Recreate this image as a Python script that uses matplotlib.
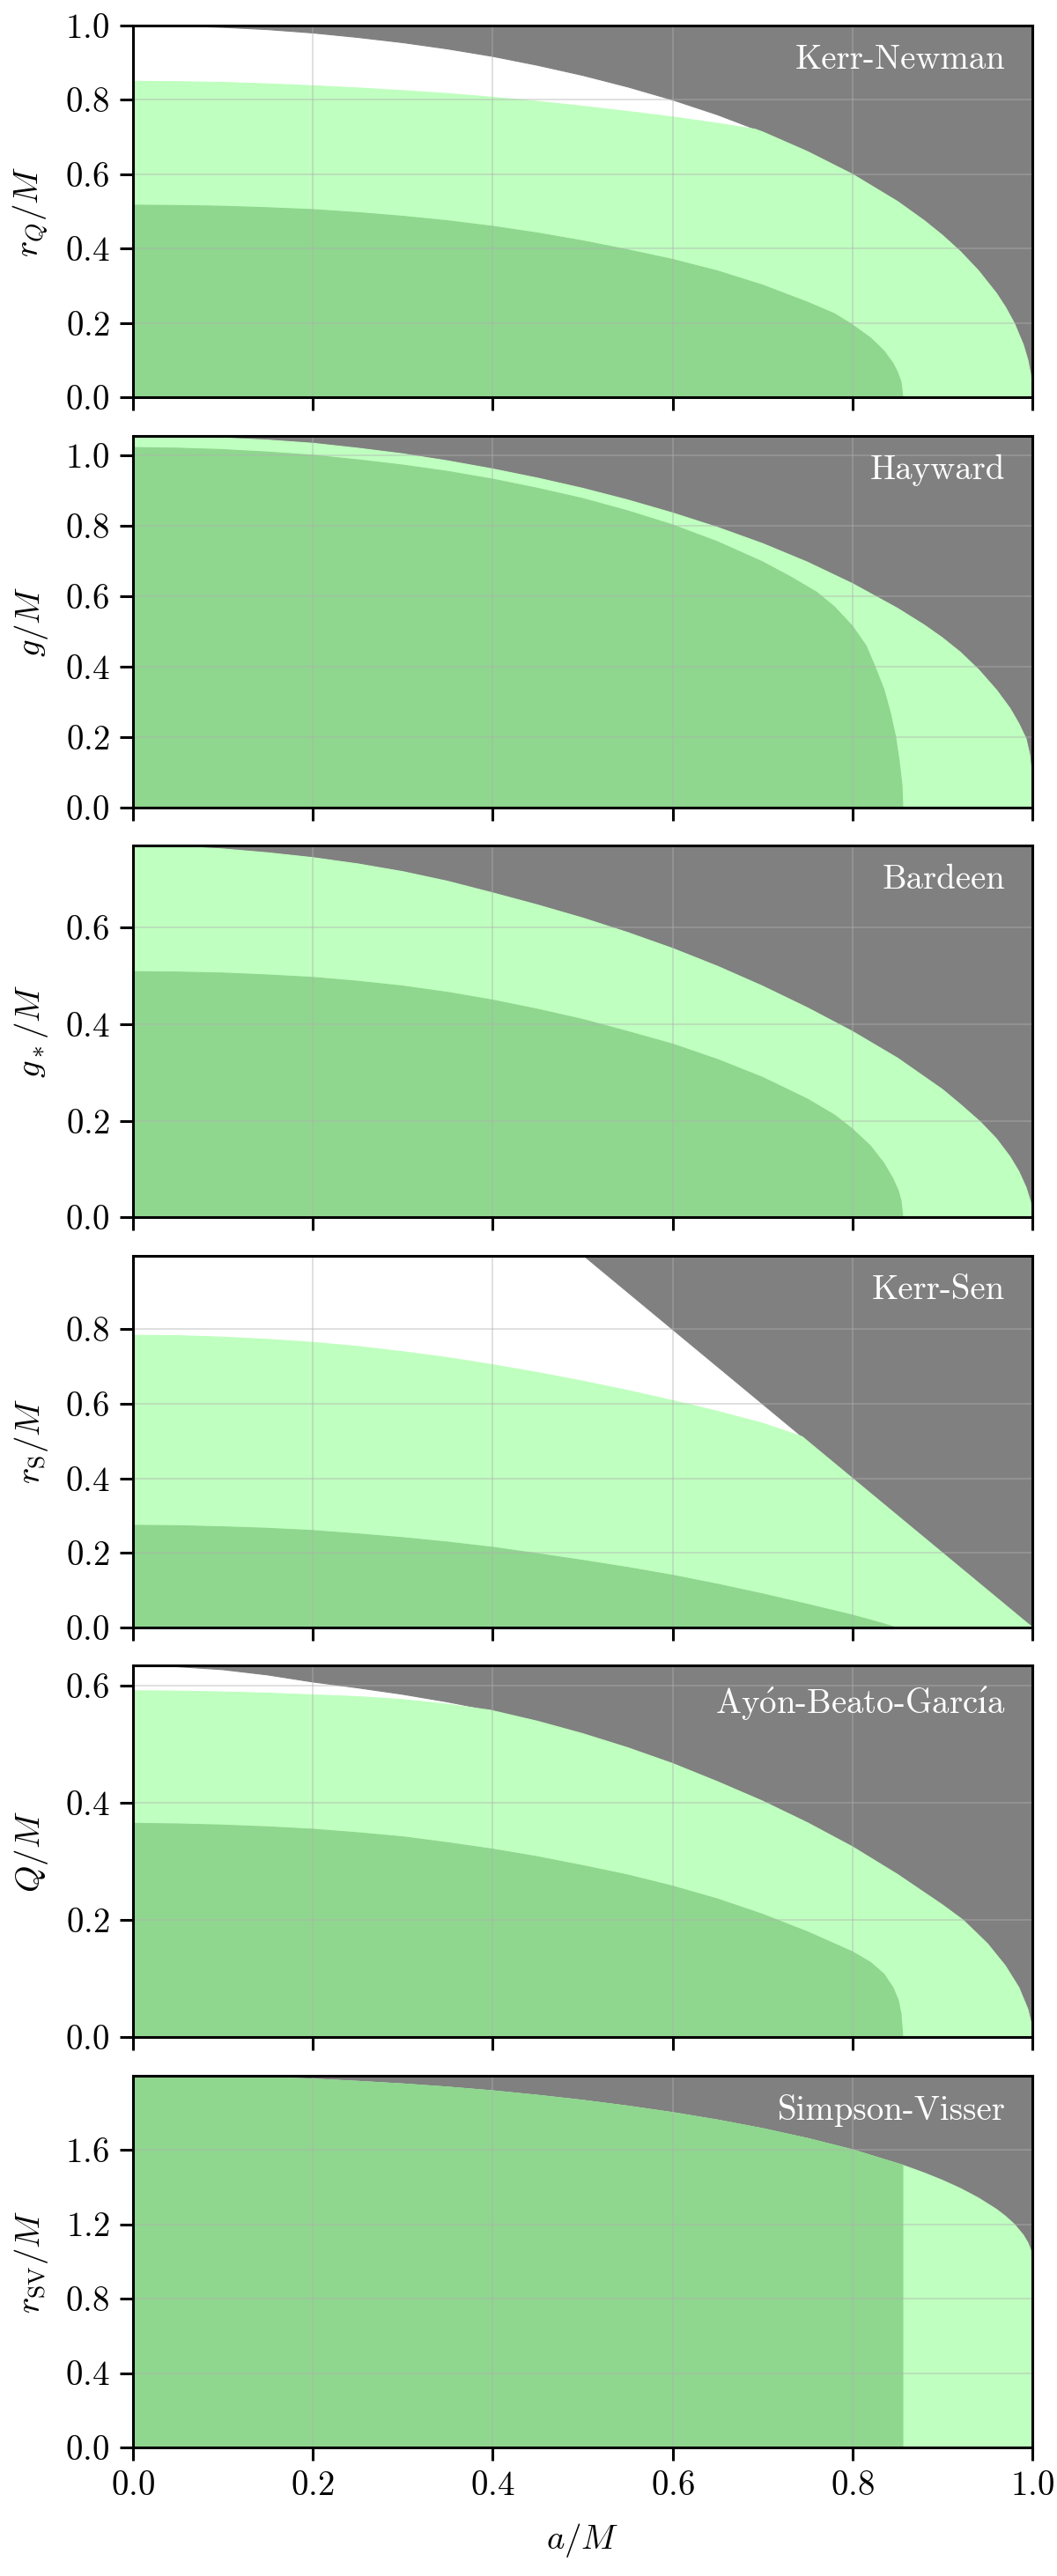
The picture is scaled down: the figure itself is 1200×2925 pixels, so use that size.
import numpy as np
import matplotlib
matplotlib.use("Agg")
import matplotlib.pyplot as plt
from matplotlib.ticker import MultipleLocator

plt.rcParams["font.family"] = "serif"
plt.rcParams["font.serif"] = ["cmr10"]
plt.rcParams["mathtext.fontset"] = "cm"
plt.rcParams["axes.formatter.use_mathtext"] = True

# ---------------- data ----------------
# Kerr-Newman: extremal curve, light-green and dark-green boundaries
kn_ext_a = [0, 0.05, 0.1, 0.15, 0.2, 0.25, 0.3, 0.35, 0.4, 0.45, 0.5, 0.55, 0.6, 0.65, 0.7, 0.75,
            0.8, 0.85, 0.88, 0.9, 0.92, 0.94, 0.96, 0.97, 0.98, 0.99, 0.995, 0.998, 1.0]
kn_ext_y = [1.0, 0.999, 0.995, 0.989, 0.980, 0.968, 0.954, 0.937, 0.917, 0.893, 0.866, 0.835, 0.800,
            0.760, 0.714, 0.661, 0.600, 0.527, 0.475, 0.436, 0.392, 0.341, 0.280, 0.243, 0.199, 0.141,
            0.100, 0.063, 0.0]
kn_light_a = [0, 0.05, 0.1, 0.15, 0.2, 0.25, 0.3, 0.35, 0.4, 0.45, 0.5, 0.55, 0.6, 0.65, 0.692]
kn_light_y = [0.850, 0.849, 0.847, 0.843, 0.838, 0.832, 0.825, 0.817, 0.807, 0.796, 0.783, 0.769,
              0.754, 0.737, 0.721]
kn_dark_a = [0, 0.05, 0.1, 0.15, 0.2, 0.25, 0.3, 0.35, 0.4, 0.45, 0.5, 0.55, 0.6, 0.65, 0.7, 0.75,
             0.78, 0.8, 0.82, 0.835, 0.845, 0.85, 0.854, 0.856]
kn_dark_y = [0.517, 0.516, 0.514, 0.510, 0.505, 0.497, 0.487, 0.475, 0.460, 0.442, 0.421, 0.397,
             0.371, 0.340, 0.302, 0.256, 0.225, 0.195, 0.160, 0.125, 0.092, 0.068, 0.042, 0.0]

# Hayward
hw_ext_a = [0, 0.05, 0.1, 0.15, 0.2, 0.25, 0.3, 0.35, 0.4, 0.45, 0.5, 0.55, 0.6, 0.65, 0.7, 0.75,
            0.8, 0.85, 0.88, 0.9, 0.92, 0.94, 0.96, 0.975, 0.985, 0.993, 0.997, 0.999, 1.0]
hw_ext_y = [1.057, 1.055, 1.050, 1.044, 1.035, 1.021, 1.005, 0.985, 0.962, 0.936, 0.907, 0.874,
            0.837, 0.796, 0.750, 0.697, 0.636, 0.566, 0.518, 0.482, 0.441, 0.392, 0.334, 0.282,
            0.238, 0.195, 0.150, 0.100, 0.0]
hw_dark_a = [0, 0.05, 0.1, 0.15, 0.2, 0.25, 0.3, 0.35, 0.4, 0.45, 0.5, 0.55, 0.6, 0.65, 0.7, 0.73,
             0.76, 0.78, 0.8, 0.815, 0.825, 0.835, 0.842, 0.848, 0.852, 0.855, 0.856]
hw_dark_y = [1.023, 1.021, 1.017, 1.010, 1.001, 0.988, 0.973, 0.955, 0.933, 0.907, 0.878, 0.843,
             0.803, 0.755, 0.698, 0.657, 0.612, 0.570, 0.515, 0.460, 0.400, 0.335, 0.270, 0.200,
             0.130, 0.065, 0.0]

# Bardeen
bd_ext_a = [0, 0.05, 0.1, 0.15, 0.2, 0.25, 0.3, 0.35, 0.4, 0.45, 0.5, 0.55, 0.6, 0.65, 0.7, 0.75,
            0.8, 0.85, 0.9, 0.92, 0.942, 0.96, 0.975, 0.985, 0.993, 0.998, 1.0]
bd_ext_y = [0.770, 0.768, 0.763, 0.755, 0.745, 0.732, 0.716, 0.696, 0.672, 0.647, 0.620, 0.590,
            0.557, 0.520, 0.479, 0.434, 0.385, 0.330, 0.265, 0.234, 0.198, 0.163, 0.126, 0.095,
            0.062, 0.032, 0.0]
bd_dark_a = [0, 0.05, 0.1, 0.15, 0.2, 0.25, 0.3, 0.35, 0.4, 0.45, 0.5, 0.55, 0.6, 0.65, 0.7, 0.75,
             0.78, 0.8, 0.82, 0.835, 0.845, 0.851, 0.854, 0.856]
bd_dark_y = [0.509, 0.508, 0.506, 0.502, 0.497, 0.489, 0.479, 0.466, 0.450, 0.431, 0.410, 0.385,
             0.359, 0.327, 0.290, 0.245, 0.212, 0.183, 0.148, 0.112, 0.080, 0.055, 0.035, 0.0]

# Kerr-Sen
ks_ext_a = [0.5, 1.0]
ks_ext_y = [1.0, 0.0]
ks_light_a = [0, 0.05, 0.1, 0.15, 0.2, 0.25, 0.3, 0.35, 0.4, 0.45, 0.5, 0.55, 0.6, 0.65, 0.7, 0.744]
ks_light_y = [0.784, 0.783, 0.779, 0.773, 0.765, 0.754, 0.740, 0.724, 0.705, 0.684, 0.661, 0.636,
              0.609, 0.580, 0.548, 0.512]
ks_dark_a = [0, 0.05, 0.1, 0.15, 0.2, 0.25, 0.3, 0.35, 0.4, 0.45, 0.5, 0.55, 0.6, 0.65, 0.7, 0.75,
             0.8, 0.83, 0.848]
ks_dark_y = [0.274, 0.273, 0.270, 0.266, 0.260, 0.251, 0.241, 0.229, 0.215, 0.198, 0.180, 0.161,
             0.140, 0.116, 0.090, 0.062, 0.033, 0.013, 0.0]

# Ayon-Beato-Garcia
abg_ext_a = [0, 0.05, 0.1, 0.15, 0.2, 0.25, 0.3, 0.35, 0.4, 0.45, 0.5, 0.55, 0.6, 0.65, 0.7, 0.75,
             0.8, 0.85, 0.9, 0.923, 0.95, 0.97, 0.985, 0.995, 0.999, 1.0]
abg_ext_y = [0.634, 0.632, 0.627, 0.618, 0.606, 0.596, 0.585, 0.572, 0.557, 0.539, 0.518, 0.494,
             0.467, 0.436, 0.403, 0.366, 0.325, 0.278, 0.226, 0.200, 0.160, 0.122, 0.085, 0.048,
             0.022, 0.0]
abg_light_a = [0, 0.05, 0.1, 0.15, 0.2, 0.25, 0.3, 0.35, 0.397]
abg_light_y = [0.591, 0.5905, 0.589, 0.587, 0.584, 0.581, 0.576, 0.568, 0.558]
abg_dark_a = [0, 0.05, 0.1, 0.15, 0.2, 0.25, 0.3, 0.35, 0.4, 0.45, 0.5, 0.55, 0.6, 0.65, 0.7, 0.75,
              0.8, 0.82, 0.835, 0.845, 0.851, 0.854, 0.856]
abg_dark_y = [0.365, 0.364, 0.362, 0.359, 0.355, 0.349, 0.342, 0.332, 0.321, 0.308, 0.293, 0.277,
              0.258, 0.236, 0.210, 0.180, 0.146, 0.128, 0.108, 0.085, 0.063, 0.040, 0.0]

# Simpson-Visser
sv_ext_a = [0, 0.05, 0.1, 0.15, 0.2, 0.25, 0.3, 0.35, 0.4, 0.45, 0.5, 0.55, 0.6, 0.65, 0.7, 0.75,
            0.8, 0.856, 0.88, 0.9, 0.92, 0.94, 0.96, 0.97, 0.98, 0.99, 0.995, 0.998, 1.0]
sv_ext_y = [2.0, 1.999, 1.995, 1.989, 1.980, 1.968, 1.954, 1.937, 1.917, 1.893, 1.866, 1.835, 1.800,
            1.760, 1.714, 1.661, 1.600, 1.517, 1.475, 1.436, 1.392, 1.341, 1.280, 1.243, 1.199,
            1.141, 1.100, 1.063, 1.0]
sv_dark_amax = 0.856

names = ["Kerr-Newman", "Hayward", "Bardeen", "Kerr-Sen",
         r"Ay$\acute{\mathrm{o}}$n-Beato-Garc$\acute{\mathrm{ı}}$a", "Simpson-Visser"]
ylabels = [r"$r_Q/M$", r"$g/M$", r"$g_*/M$", r"$r_{\rm S}/M$", r"$Q/M$", r"$r_{\rm SV}/M$"]
ytops = [1.0, 1.057, 0.770, 0.998, 0.634, 1.999]
ysteps = [0.2, 0.2, 0.2, 0.2, 0.2, 0.4]

GRAY = "#808080"
LIGHT = "#bfffbf"
DARK = "#8fd68f"

fig, axes = plt.subplots(6, 1, figsize=(6, 14.625), dpi=200, sharex=True)
fig.subplots_adjust(left=0.1256, right=0.9767, top=0.9901, bottom=0.0499, hspace=0.1025)


def fill(ax, xs, ys, color):
    ax.fill(xs, ys, color=color, lw=0.4, ec=color, zorder=1)


def poly_under(a, y):
    return [a[0]] + list(a) + [a[-1]], [0] + list(y) + [0]


def draw_panel(ax, ext_a, ext_y, light_a, light_y, dark_a, dark_y, top):
    # gray: region above the extremal curve
    ga = [ext_a[0]] + list(ext_a) + [ext_a[-1]]
    gy = [top * 2] + list(ext_y) + [top * 2]
    fill(ax, ga, gy, GRAY)
    # light green
    if light_a is None:
        la, ly = list(ext_a), list(ext_y)
    else:
        amax = light_a[-1]
        la = list(light_a) + [a for a in ext_a if a > amax]
        ly = list(light_y) + [y for a, y in zip(ext_a, ext_y) if a > amax]
    xs, ys = poly_under(la, ly)
    fill(ax, xs, ys, LIGHT)
    # dark green
    xs, ys = poly_under(dark_a, dark_y)
    fill(ax, xs, ys, DARK)


sv_dark_a = [a for a in sv_ext_a if a <= sv_dark_amax]
sv_dark_y = [y for a, y in zip(sv_ext_a, sv_ext_y) if a <= sv_dark_amax]

panels = [
    (kn_ext_a, kn_ext_y, kn_light_a, kn_light_y, kn_dark_a, kn_dark_y),
    (hw_ext_a, hw_ext_y, None, None, hw_dark_a, hw_dark_y),
    (bd_ext_a, bd_ext_y, None, None, bd_dark_a, bd_dark_y),
    (ks_ext_a, ks_ext_y, ks_light_a, ks_light_y, ks_dark_a, ks_dark_y),
    (abg_ext_a, abg_ext_y, abg_light_a, abg_light_y, abg_dark_a, abg_dark_y),
    (sv_ext_a, sv_ext_y, None, None, sv_dark_a, sv_dark_y),
]

for i, ax in enumerate(axes):
    draw_panel(ax, *panels[i], ytops[i])
    ax.set_xlim(0, 1)
    ax.set_ylim(0, ytops[i])
    ax.xaxis.set_major_locator(MultipleLocator(0.2))
    ax.yaxis.set_major_locator(MultipleLocator(ysteps[i]))
    ax.grid(True, color="#b0b0b0", alpha=0.4, lw=0.7)
    ax.tick_params(direction="out", length=5.5, width=1.1, labelsize=14, pad=4)
    for sp in ax.spines.values():
        sp.set_linewidth(1.1)
    ax.set_ylabel(ylabels[i], fontsize=14, labelpad=6)
    ax.text(0.97, 0.95, names[i], transform=ax.transAxes, ha="right", va="top",
            color="white", fontsize=14)

axes[-1].set_xlabel(r"$a/M$", fontsize=14, labelpad=8)

fig.savefig("out.png", dpi=200)
